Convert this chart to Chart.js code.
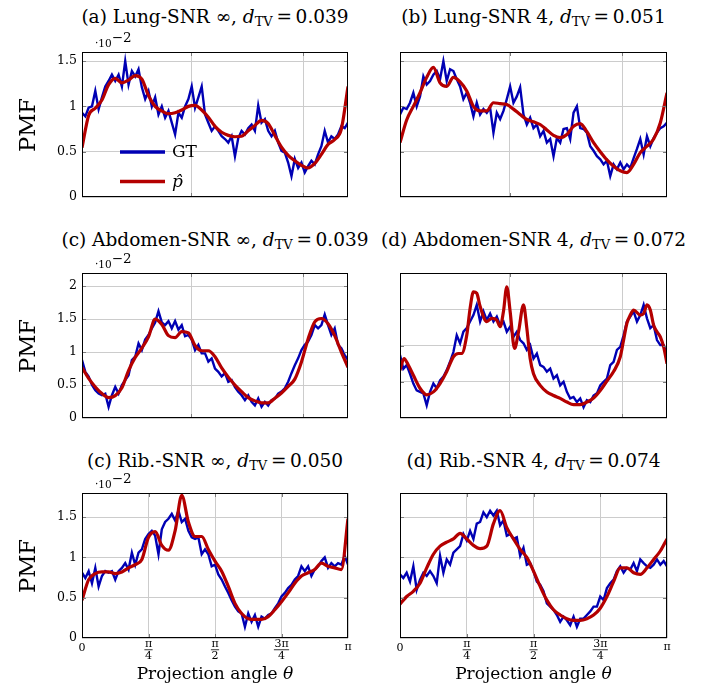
<!DOCTYPE html>
<html>
<head>
<meta charset="utf-8">
<script src="https://cdn.jsdelivr.net/npm/chart.js@4.4.0/dist/chart.umd.min.js"></script>
<style>
  body { margin: 0; background: #fff; width: 713px; height: 683px; position: relative; overflow: hidden;
         font-family: "DejaVu Serif", serif; color: #000; }
  canvas { position: absolute; }
  .title { position: absolute; width: 400px; text-align: center; font-size: 18.5px; line-height: 24px; white-space: nowrap; }
  .title sub { font-size: 13px; line-height: 0; vertical-align: -3px; }
  .pmf { position: absolute; width: 100px; height: 30px; line-height: 30px; text-align: center; font-size: 22.7px;
         transform: rotate(-90deg); }
  .sci { position: absolute; font-size: 10.5px; line-height: 12px; white-space: nowrap; }
  .sci span { position: relative; top: -5px; font-size: 13.5px; line-height: 0; }
  .xlab { position: absolute; width: 240px; text-align: center; font-size: 17px; line-height: 22px; }
</style>
</head>
<body>
<script>
// ---- data (x in fractions of pi) ----
const gtLungInf = [0.93,0.89,0.985,1.0,1.17,0.97,1.1,1.22,1.28,1.35, 1.28,1.35,1.22,1.5,1.24,1.39,1.33,1.41,1.21,1.08,
  1.17,1.0,1.1,0.91,1.0,0.875,0.95,0.82,0.69,0.93, 0.875,1.0,1.08,1.22,0.985,1.1,1.22,0.91,0.82,0.73,
  0.78,0.73,0.67,0.64,0.6,0.67,0.45,0.65,0.73,0.69, 0.76,0.8,0.73,1.01,0.82,0.86,0.73,0.67,0.73,0.6,
  0.51,0.49,0.38,0.23,0.42,0.32,0.38,0.27,0.34,0.4, 0.36,0.47,0.56,0.73,0.6,0.67,0.64,0.69,0.78,0.76, 0.82];
const estLungInf = [0.544,0.90,0.98,1.07,1.24,1.31,1.26,1.29,1.34,1.30, 1.12,1.0,0.95,0.92,0.93,0.96,1.0,1.01,0.96,0.88,
  0.78,0.715,0.68,0.665,0.67,0.73,0.79,0.845,0.81,0.68, 0.55,0.46,0.40,0.35,0.32,0.37,0.47,0.58,0.635,0.75, 1.22];

const gtLung4 = [0.91,0.985,0.97,1.04,1.15,1.0,1.11,1.33,1.24,1.28, 1.35,1.39,1.30,1.5,1.28,1.41,1.39,1.30,1.22,1.08,
  1.15,1.04,0.89,1.04,0.91,0.97,0.93,0.985,0.71,0.93, 0.86,0.95,1.08,1.22,1.04,1.11,1.21,0.91,0.80,0.875,
  0.76,0.80,0.67,0.73,0.60,0.64,0.45,0.65,0.60,0.75, 0.76,0.64,0.93,1.0,0.76,0.75,0.71,0.56,0.51,0.45,
  0.415,0.36,0.40,0.23,0.36,0.305,0.38,0.305,0.36,0.32, 0.43,0.53,0.64,0.47,0.67,0.56,0.65,0.71,0.76,0.78, 0.82];
const estLung4 = [0.60,0.85,1.0,1.15,1.32,1.43,1.26,1.22,1.32,1.27, 1.17,1.0,0.95,0.95,1.04,1.03,1.02,0.97,0.91,0.855,
  0.83,0.80,0.74,0.68,0.655,0.69,0.78,0.81,0.72,0.60, 0.50,0.41,0.34,0.29,0.27,0.36,0.49,0.56,0.64,0.82, 1.15];

const gtAbdInf = [0.88,0.70,0.63,0.50,0.42,0.37,0.345,0.37,0.17,0.345, 0.47,0.37,0.50,0.575,0.65,0.88,0.93,1.13,1.03,1.19,
  1.26,1.36,1.45,1.62,1.45,1.41,1.47,1.36,1.47,1.34, 1.41,1.24,1.26,1.19,1.03,1.11,0.98,0.98,0.855,0.905,
  0.75,0.70,0.63,0.68,0.55,0.575,0.47,0.40,0.345,0.27, 0.345,0.245,0.19,0.295,0.17,0.245,0.19,0.27,0.295,0.37,
  0.40,0.45,0.55,0.68,0.80,0.905,1.03,1.11,1.16,1.26, 1.41,1.36,1.41,1.57,1.41,1.26,1.36,1.11,1.06,0.955, 0.88];
const estAbdInf = [0.765,0.60,0.47,0.37,0.31,0.34,0.46,0.72,0.92,1.06, 1.23,1.50,1.42,1.25,1.22,1.31,1.29,1.10,1.02,1.02,
  0.93,0.76,0.62,0.50,0.40,0.31,0.26,0.23,0.23,0.30, 0.38,0.48,0.59,0.85,1.20,1.46,1.51,1.43,1.25,1.0, 0.77];

const gtAbd4 = [0.87,0.68,0.73,0.61,0.475,0.38,0.36,0.34,0.175,0.36, 0.475,0.41,0.52,0.57,0.66,0.775,0.91,1.14,1.03,1.19,
  1.24,1.33,1.42,1.56,1.33,1.47,1.35,1.44,1.33,1.40, 1.28,1.33,1.19,1.26,1.12,1.19,1.075,1.03,0.94,1.005,
  0.82,0.89,0.73,0.705,0.64,0.68,0.545,0.59,0.45,0.50, 0.36,0.27,0.29,0.22,0.27,0.15,0.245,0.22,0.31,0.34,
  0.45,0.50,0.545,0.73,0.775,0.94,0.98,1.14,1.33,1.40, 1.47,1.33,1.42,1.56,1.375,1.24,1.28,1.075,1.005,1.005, 0.87];
const estAbd4X = [0,0.015,0.031,0.05,0.075,0.1,0.125,0.15,0.175,0.2, 0.219,0.231,0.25,0.2625,0.275,0.2875,0.3,0.325,0.344,0.3625,
  0.375,0.3875,0.4,0.4125,0.429,0.444,0.4625,0.475,0.4875,0.5, 0.525,0.55,0.575,0.6,0.625,0.65,0.675,0.7,0.725,0.75,
  0.775,0.8,0.825,0.8375,0.85,0.8625,0.875,0.9,0.9125,0.925, 0.9375,0.95,0.9625,0.975,0.9875,1.0];
const estAbd4 = [0.66,0.82,0.73,0.59,0.41,0.32,0.36,0.475,0.64,0.845, 0.89,0.89,1.14,1.51,1.74,1.72,1.54,1.33,1.375,1.35,
  1.26,1.47,1.81,1.47,0.96,1.19,1.56,1.24,0.82,0.61, 0.45,0.36,0.31,0.27,0.22,0.185,0.185,0.22,0.275,0.38,
  0.51,0.64,0.845,1.075,1.31,1.42,1.49,1.42,1.44,1.56, 1.49,1.28,1.19,1.12,0.98,0.75];

const gtRibInf = [0.81,0.745,0.83,0.68,0.87,0.64,0.77,0.83,0.81,0.83, 0.725,0.83,0.87,0.93,0.85,1.06,0.91,1.06,1.10,1.23,
  1.29,1.33,1.27,1.04,1.35,1.44,1.48,1.54,1.46,1.58, 1.44,1.48,1.33,1.25,1.23,1.25,1.04,1.10,1.04,0.89,
  0.91,0.79,0.725,0.64,0.56,0.47,0.39,0.33,0.305,0.14, 0.305,0.20,0.285,0.14,0.265,0.24,0.285,0.305,0.37,0.43,
  0.515,0.56,0.62,0.66,0.725,0.77,0.89,0.83,0.89,0.77, 0.85,0.89,0.955,1.0,0.87,0.93,0.89,0.93,0.91,1.02, 0.91];
const estRibInf = [0.47,0.725,0.80,0.82,0.82,0.80,0.82,0.87,0.91,0.975, 1.25,1.32,1.15,1.09,1.33,1.77,1.44,1.26,1.26,1.10,
  0.955,0.83,0.64,0.43,0.305,0.24,0.23,0.23,0.265,0.35, 0.45,0.56,0.68,0.77,0.81,0.85,0.93,0.89,0.87,0.85, 1.48];

const gtRib4 = [0.79,0.745,0.81,0.70,0.89,0.60,0.725,0.81,0.77,0.83, 0.77,0.68,1.02,0.81,0.975,0.91,1.06,1.10,1.14,1.29,
  1.21,1.33,1.23,1.42,1.44,1.56,1.50,1.58,1.52,1.58, 1.40,1.46,1.27,1.29,1.23,1.25,1.02,1.12,0.91,0.93,
  0.83,0.70,0.66,0.58,0.43,0.39,0.35,0.285,0.20,0.265, 0.22,0.16,0.265,0.14,0.24,0.24,0.285,0.33,0.39,0.39,
  0.515,0.47,0.62,0.68,0.725,0.83,0.89,0.81,0.87,0.85, 0.93,0.83,0.975,0.93,0.89,0.87,0.91,0.975,0.91,0.955, 0.89];
const estRib4 = [0.42,0.515,0.58,0.68,0.87,1.04,1.14,1.19,1.23,1.30, 1.23,1.15,1.11,1.14,1.42,1.58,1.37,1.23,1.10,1.0,
  0.83,0.64,0.47,0.35,0.285,0.24,0.22,0.22,0.24,0.285, 0.37,0.515,0.70,0.87,0.87,0.81,0.79,0.87,0.975,1.08, 1.23];

const xTickValues = [0, 0.25, 0.5, 0.75, 1];
const xTickLabels = ['0', 'π/4', 'π/2', '3π/4', 'π'];
const topGridValues = [0.411, 0.832];
const yTicksLung = [0, 0.5, 1, 1.5];
const yTicksAbdInf = [0, 0.5, 1, 1.5, 2];
const yTicksAbd4 = [0, 0.5, 1, 1.5, 2];
const yTicksRib = [0, 0.5, 1, 1.5];

const panelTitles = [
  ['(a) Lung-SNR ∞, ', '0.039'], ['(b) Lung-SNR 4, ', '0.051'],
  ['(c) Abdomen-SNR ∞, ', '0.039'], ['(d) Abdomen-SNR 4, ', '0.072'],
  ['(c) Rib.-SNR ∞, ', '0.050'], ['(d) Rib.-SNR 4, ', '0.074']
];
const seriesLabels = ['GT', 'p\u0302'];

// ---- layout ----
const colLeft = [82, 400], colWidth = [266, 267];
const rowTop = [52, 273, 493], plotH = 145;
const titleBase = [23.3, 245.7, 466.7];
const sciBase = [46.7, 267.7, 487.7];
const blue = '#0000b4', red = '#b40000', gridColor = '#cccccc';
const serif = 'DejaVu Serif';

const panels = [
  { gt: gtLungInf, est: estLungInf, yMax: 1.6, yTicks: yTicksLung, row: 0, col: 0, legend: true },
  { gt: gtLung4, est: estLung4, yMax: 1.6, yTicks: yTicksLung, row: 0, col: 1 },
  { gt: gtAbdInf, est: estAbdInf, yMax: 2.2, yTicks: yTicksAbdInf, row: 1, col: 0 },
  { gt: gtAbd4, est: estAbd4, estX: estAbd4X, yMax: 2.0, yTicks: yTicksAbd4, row: 1, col: 1 },
  { gt: gtRibInf, est: estRibInf, yMax: 1.8, yTicks: yTicksRib, row: 2, col: 0 },
  { gt: gtRib4, est: estRib4, yMax: 1.8, yTicks: yTicksRib, row: 2, col: 1 }
];

const framePlugin = {
  id: 'frame',
  afterDraw(chart) {
    const { ctx, chartArea: a, scales } = chart;
    ctx.save();
    ctx.lineWidth = 1;
    ctx.strokeStyle = '#7a7a7a';
    ctx.beginPath();
    scales.y.ticks.forEach(t => {
      const y = Math.round(scales.y.getPixelForValue(t.value)) + 0.5;
      if (y < a.top + 2 || y > a.bottom - 2) return;
      ctx.moveTo(a.left, y); ctx.lineTo(a.left + 4, y);
      ctx.moveTo(a.right, y); ctx.lineTo(a.right - 4, y);
    });
    scales.x.ticks.forEach(t => {
      const x = Math.round(scales.x.getPixelForValue(t.value)) + 0.5;
      if (x < a.left + 2 || x > a.right - 2) return;
      ctx.moveTo(x, a.top); ctx.lineTo(x, a.top + 4);
      ctx.moveTo(x, a.bottom); ctx.lineTo(x, a.bottom - 4);
    });
    ctx.stroke();
    ctx.strokeStyle = '#000';
    ctx.strokeRect(a.left + 0.5, a.top + 0.5, a.right - a.left - 1, a.bottom - a.top - 1);
    ctx.restore();
  }
};

const fracTickPlugin = {
  id: 'fracTicks',
  afterDraw(chart) {
    const { ctx, chartArea: a, scales: { x } } = chart;
    ctx.save();
    ctx.fillStyle = '#000';
    ctx.textAlign = 'center';
    ctx.textBaseline = 'middle';
    ctx.font = '11px "' + serif + '"';
    xTickValues.forEach((v, i) => {
      const px = x.getPixelForValue(v * Math.PI);
      const lab = xTickLabels[i];
      if (lab.includes('/')) {
        const [num, den] = lab.split('/');
        ctx.fillText(num, px, a.bottom + 6.3);
        ctx.fillText(den, px, a.bottom + 17.8);
        const w = Math.max(ctx.measureText(num).width, ctx.measureText(den).width) + 1;
        ctx.fillRect(px - w / 2, a.bottom + 11.4, w, 0.8);
      } else {
        ctx.fillText(lab, px, a.bottom + (lab === '0' ? 10.5 : 9));
      }
    });
    ctx.restore();
  }
};

const legendPlugin = {
  id: 'legendIn',
  afterDraw(chart) {
    const { ctx, chartArea: a } = chart;
    ctx.save();
    ctx.textBaseline = 'middle';
    ctx.fillStyle = '#000';
    [1, 0].forEach((di, row) => {
      const ds = chart.data.datasets[di];
      const y = a.top + 100 + row * 29.5;
      ctx.strokeStyle = ds.borderColor;
      ctx.lineWidth = 3.6;
      ctx.beginPath();
      ctx.moveTo(a.left + 38, y); ctx.lineTo(a.left + 83, y);
      ctx.stroke();
      ctx.font = (row === 1 ? 'italic ' : '') + '17px "' + serif + '"';
      ctx.fillText(ds.label, a.left + 90, y + 1);
    });
    ctx.restore();
  }
};

panels.forEach((p, idx) => {
  const left = colLeft[p.col], w = colWidth[p.col], top = rowTop[p.row];
  const cv = document.createElement('canvas');
  cv.width = 45 + w + 6;
  cv.height = 8 + plotH + 30;
  cv.style.left = (left - 45) + 'px';
  cv.style.top = (top - 8) + 'px';
  document.body.appendChild(cv);

  const gtData = p.gt.map((v, i) => ({ x: i / (p.gt.length - 1) * Math.PI, y: v }));
  const estData = p.est.map((v, i) => ({
    x: (p.estX ? p.estX[i] : i / (p.est.length - 1)) * Math.PI, y: v
  }));
  const bottomRow = p.row === 2;
  const plugins = [framePlugin];
  if (bottomRow) plugins.push(fracTickPlugin);
  if (p.legend) plugins.push(legendPlugin);

  new Chart(cv, {
    type: 'line',
    data: {
      datasets: [
        { label: seriesLabels[1], data: estData, borderColor: red, borderWidth: 3.2, pointRadius: 0,
          cubicInterpolationMode: 'monotone', order: 0, clip: 0 },
        { label: seriesLabels[0], data: gtData, borderColor: blue, borderWidth: 2.4, pointRadius: 0,
          tension: 0, order: 1, clip: 0 }
      ]
    },
    options: {
      responsive: false,
      animation: false,
      devicePixelRatio: 1,
      layout: { padding: { top: 8, right: 6, left: 0, bottom: 0 } },
      plugins: { legend: { display: false }, tooltip: { enabled: false }, title: { display: false } },
      scales: {
        x: {
          type: 'linear', min: 0, max: Math.PI,
          afterBuildTicks: s => {
            const vals = bottomRow ? xTickValues : topGridValues;
            s.ticks = vals.map(v => ({ value: v * Math.PI }));
          },
          afterFit: s => { s.height = 30; s.paddingLeft = 0; s.paddingRight = 0; },
          ticks: { display: false },
          grid: { color: gridColor, lineWidth: 1, drawTicks: false },
          border: { display: false }
        },
        y: {
          type: 'linear', min: 0, max: p.yMax,
          afterBuildTicks: s => { s.ticks = p.yTicks.map(v => ({ value: v })); },
          afterFit: s => { s.width = 45; s.paddingTop = 0; s.paddingBottom = 0; },
          ticks: {
            display: p.col === 0, padding: 5, color: '#000',
            font: { family: serif, size: 12.5 },
            callback: v => String(v)
          },
          grid: { color: gridColor, lineWidth: 1, drawTicks: false },
          border: { display: false }
        }
      }
    },
    plugins
  });

  // titles and axis texts
  const t = document.createElement('div');
  t.className = 'title';
  t.style.left = (left + w / 2 - 200) + 'px';
  t.style.top = (titleBase[p.row] - 18.1) + 'px';
  t.innerHTML = panelTitles[idx][0] + '<i>d</i><sub>TV</sub>\u2009=\u2009' + panelTitles[idx][1];
  document.body.appendChild(t);

  if (p.col === 0) {
    const m = document.createElement('div');
    m.className = 'pmf';
    m.style.left = (27 - 50) + 'px';
    m.style.top = (top + plotH / 2 - 15) + 'px';
    m.textContent = 'PMF';
    document.body.appendChild(m);

    const s = document.createElement('div');
    s.className = 'sci';
    s.style.left = '95px';
    s.style.top = (sciBase[p.row] - 9.6) + 'px';
    s.innerHTML = '·10<span>\u22122</span>';
    document.body.appendChild(s);
  }
  if (bottomRow) {
    const xl = document.createElement('div');
    xl.className = 'xlab';
    xl.style.left = (left + w / 2 - 120) + 'px';
    xl.style.top = '662px';
    xl.innerHTML = 'Projection angle <i>θ</i>';
    document.body.appendChild(xl);
  }
});
</script>
</body>
</html>
